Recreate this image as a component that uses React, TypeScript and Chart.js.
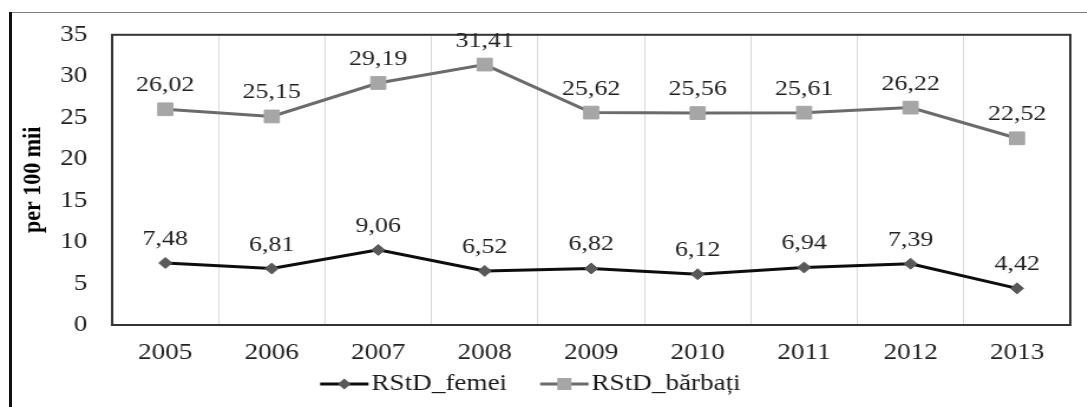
import { useEffect, useRef } from 'react';
import { Chart, registerables } from 'chart.js';

Chart.register(...registerables);

const years = ['2005', '2006', '2007', '2008', '2009', '2010', '2011', '2012', '2013'];
const femei = [7.48, 6.81, 9.06, 6.52, 6.82, 6.12, 6.94, 7.39, 4.42];
const barbati = [26.02, 25.15, 29.19, 31.41, 25.62, 25.56, 25.61, 26.22, 22.52];
const yTicks = [0, 5, 10, 15, 20, 25, 30, 35];
const seriesNames = ['RStD_femei', 'RStD_bărbați'];
const yTitle = 'per 100 mii';

const FONT = "'Liberation Serif', 'Times New Roman', serif";
const SX = 1.18;
const W = Math.round(1087 / SX);
const H = 407;

const fmt = (v: number) => v.toFixed(2).replace('.', ',');

const labelPlugin = {
  id: 'valueLabels',
  afterDatasetsDraw(chart: any) {
    const ctx = chart.ctx;
    ctx.save();
    ctx.font = `22px ${FONT}`;
    ctx.fillStyle = '#222';
    ctx.textAlign = 'center';
    ctx.textBaseline = 'alphabetic';
    chart.data.datasets.forEach((ds: any, i: number) => {
      const meta = chart.getDatasetMeta(i);
      meta.data.forEach((pt: any, j: number) => {
        ctx.fillText(fmt(ds.data[j]), pt.x, pt.y - 18);
      });
    });
    ctx.restore();
  },
};

const framePlugin = {
  id: 'plotFrame',
  beforeDatasetsDraw(chart: any) {
    const { ctx, chartArea: a } = chart;
    ctx.save();
    ctx.strokeStyle = '#333';
    ctx.lineWidth = 2;
    ctx.strokeRect(a.left, a.top, a.right - a.left, a.bottom - a.top);
    ctx.restore();
  },
};

// Legend drawn below the x axis: line + marker, then the series name.
const legendPlugin = {
  id: 'lineLegend',
  afterDraw(chart: any) {
    const ctx = chart.ctx;
    const datasets = chart.data.datasets;
    const markerW = 41;
    const textGap = 2.5;
    const itemGap = 28;
    const y = 384;
    ctx.save();
    ctx.font = `23px ${FONT}`;
    const widths = datasets.map((ds: any) => ctx.measureText(ds.label).width);
    const total = widths.reduce((s: number, w: number) => s + markerW + textGap + w, 0) + itemGap * (datasets.length - 1);
    let x = chart.width / 2 - 11 - total / 2;
    datasets.forEach((ds: any, i: number) => {
      ctx.strokeStyle = ds.borderColor;
      ctx.lineWidth = 3;
      ctx.beginPath();
      ctx.moveTo(x, y);
      ctx.lineTo(x + markerW, y);
      ctx.stroke();
      const cx = x + markerW / 2;
      ctx.fillStyle = ds.pointBackgroundColor;
      if (ds.pointStyle === 'rectRot') {
        ctx.beginPath();
        ctx.moveTo(cx, y - 5.5);
        ctx.lineTo(cx + 5.5, y);
        ctx.lineTo(cx, y + 5.5);
        ctx.lineTo(cx - 5.5, y);
        ctx.closePath();
        ctx.fill();
      } else {
        ctx.fillRect(cx - 6, y - 6, 12, 12);
      }
      ctx.fillStyle = '#1a1a1a';
      ctx.textAlign = 'left';
      ctx.textBaseline = 'middle';
      ctx.fillText(ds.label, x + markerW + textGap, y);
      x += markerW + textGap + widths[i] + itemGap;
    });
    ctx.restore();
  },
};

export default function App() {
  const ref = useRef<HTMLCanvasElement>(null);

  useEffect(() => {
    const chart = new Chart(ref.current!, {
      type: 'line',
      data: {
        labels: years,
        datasets: [
          {
            label: seriesNames[0],
            data: femei,
            borderColor: '#0d0d0d',
            borderWidth: 3,
            pointStyle: 'rectRot',
            pointRadius: 5.5,
            pointBackgroundColor: '#595959',
            pointBorderColor: '#595959',
            pointBorderWidth: 1,
            tension: 0,
          },
          {
            label: seriesNames[1],
            data: barbati,
            borderColor: '#6b6b6b',
            borderWidth: 3,
            pointStyle: 'rect',
            pointRadius: 9,
            pointBackgroundColor: '#a6a6a6',
            pointBorderColor: '#a6a6a6',
            pointBorderWidth: 1,
            tension: 0,
          },
        ],
      },
      options: {
        responsive: false,
        animation: false,
        devicePixelRatio: 1,
        layout: { padding: { left: 15, right: 14, top: 32, bottom: 40 } },
        scales: {
          x: {
            offset: true,
            grid: { display: true, offset: true, color: '#d9d9d9', lineWidth: 1, drawTicks: false },
            border: { display: false },
            ticks: { padding: 14, color: '#222', font: { family: FONT, size: 23 }, autoSkip: false, maxRotation: 0 },
            afterFit: (s: any) => {
              s.height = 42;
            },
          },
          y: {
            min: 0,
            max: 35,
            grid: { display: false, drawTicks: false },
            border: { display: false },
            afterBuildTicks: (s: any) => {
              s.ticks = yTicks.map((v) => ({ value: v }));
            },
            ticks: { padding: 21, color: '#222', font: { family: FONT, size: 23 } },
            title: {
              display: true,
              text: yTitle,
              color: '#000',
              padding: 0,
              font: { family: FONT, size: 22, weight: 'bold' },
            },
            afterFit: (s: any) => {
              s.width = 80;
            },
          },
        },
        plugins: {
          tooltip: { enabled: false },
          legend: { display: false },
        },
      },
      plugins: [framePlugin, labelPlugin, legendPlugin],
    } as any);
    return () => chart.destroy();
  }, []);

  return (
    <div style={{ position: 'fixed', left: 0, top: 0, width: 1087, height: 407, background: '#fff', overflow: 'hidden' }}>
      <div style={{ position: 'absolute', left: 10, top: 12, right: 0, height: 1, background: '#7f7f7f' }} />
      <div style={{ position: 'absolute', left: 9, top: 12, width: 2.5, bottom: 0, background: '#111' }} />
      <div style={{ position: 'absolute', left: 0, top: 0, width: W, height: H, transform: `scaleX(${SX})`, transformOrigin: '0 0' }}>
        <canvas ref={ref} width={W} height={H} />
      </div>
    </div>
  );
}
